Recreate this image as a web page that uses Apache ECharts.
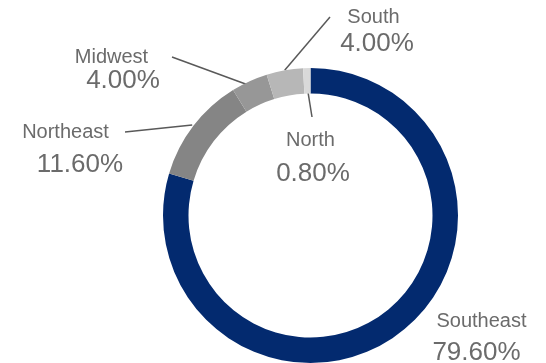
<!DOCTYPE html>
<html>
<head>
<meta charset="utf-8">
<style>
html,body{margin:0;padding:0;background:#fff;}
#c{width:546px;height:363px;}
</style>
<script src="https://cdn.jsdelivr.net/npm/echarts@6/dist/echarts.min.js"></script>
</head>
<body>
<div id="c"></div>
<script>
var regions = ['Southeast', 'Northeast', 'Midwest', 'South', 'North'];
var shares = [79.6, 11.6, 4.0, 4.0, 0.8];
var colors = ['#032A6F', '#858585', '#979797', '#B7B7B7', '#D9D9D9'];
// label layout (not data): block centres, line heights, name padding, leader ends
var labelPos = [[476.5, 339], [80, 150], [123, 70.5], [377, 32.5], [313, 159]];
var lineH = [[28, 35], [30, 36], [20, 26], [23, 30], [30, 37]];
var namePad = [[0, 0, 0, 10], [0, 29, 0, 0], [0, 23, 0, 0], [0, 7, 0, 0], [0, 5, 0, 0]];
var leaderEnd = [null, [125, 132], [172, 57], [330, 17], [312, 117]];
var leaderR = [null, 149, 142, 147.5, 128];

var CX = 310.5, CY = 215.5, R0 = 122, R1 = 147.5;

var chart = echarts.init(document.getElementById('c'), null, {renderer: 'canvas'});
var data = regions.map(function (r, i) {
  return {
    name: r,
    value: shares[i],
    itemStyle: {color: colors[i]},
    label: {
      rich: {
        n: {fontSize: 20, color: '#6b6b6b', fontFamily: 'Liberation Sans, Arial, sans-serif', lineHeight: lineH[i][0], padding: namePad[i], align: 'center'},
        v: {fontSize: 26, color: '#6b6b6b', fontFamily: 'Liberation Sans, Arial, sans-serif', lineHeight: lineH[i][1], align: 'center'}
      }
    },
    labelLine: {show: i !== 0}
  };
});
chart.setOption({
  animation: false,
  series: [{
    type: 'pie',
    center: [CX, CY],
    radius: [R0, R1],
    startAngle: 90,
    clockwise: true,
    avoidLabelOverlap: false,
    itemStyle: {borderWidth: 0},
    label: {
      show: true,
      position: 'outside',
      formatter: function (p) { return '{n|' + p.name + '}\n{v|' + p.value.toFixed(2) + '%}'; }
    },
    labelLine: {show: true, length: 0, length2: 0, lineStyle: {color: '#595959', width: 1.5}},
    labelLayout: function (params) {
      var i = params.dataIndex;
      var p = labelPos[i];
      var res = {x: p[0], y: p[1], align: 'center', verticalAlign: 'middle'};
      if (leaderEnd[i] && params.labelLinePoints) {
        var p0 = params.labelLinePoints[0];
        var dx = p0[0] - CX, dy = p0[1] - CY;
        var d = Math.sqrt(dx * dx + dy * dy) || 1;
        var k = leaderR[i] / d;
        res.labelLinePoints = [[CX + dx * k, CY + dy * k], leaderEnd[i]];
      }
      return res;
    },
    data: data
  }]
});
</script>
</body>
</html>
